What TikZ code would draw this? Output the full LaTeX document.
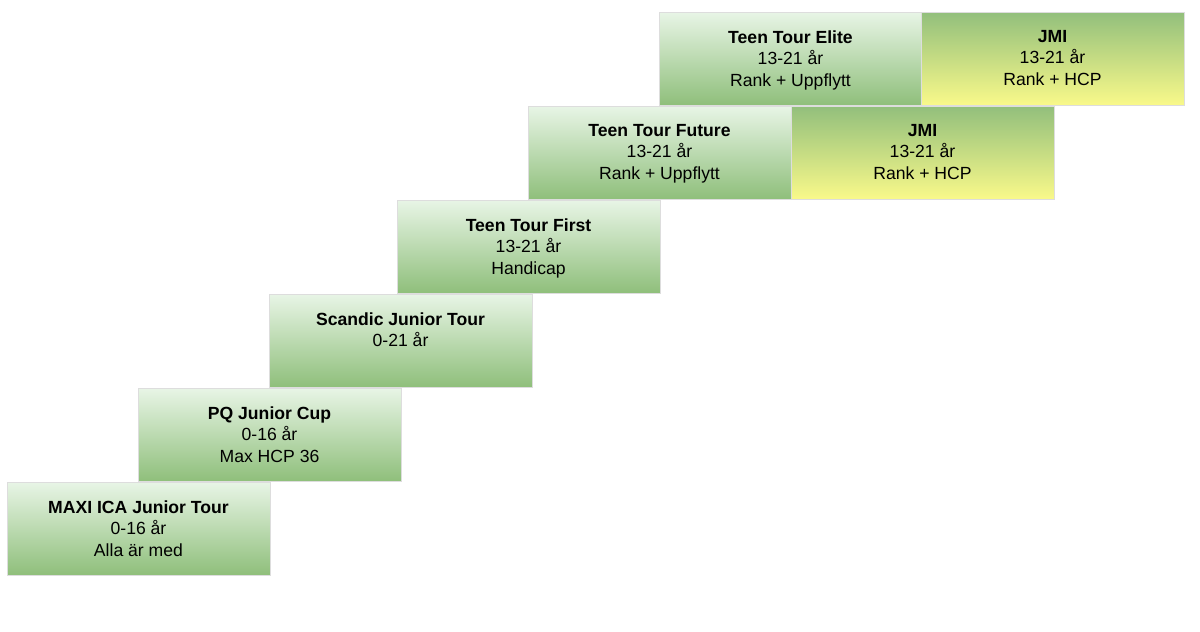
\documentclass[tikz,border=0pt]{standalone}
\usepackage{fontspec}
\setmainfont{Liberation Sans}
\definecolor{gtop}{HTML}{E8F5E6}
\definecolor{gbot}{HTML}{8FBF7B}
\definecolor{jtop}{HTML}{92BF7C}
\definecolor{jbot}{HTML}{F9F98A}
\definecolor{edge}{HTML}{DDDDDD}
\tikzset{
  box/.style={rectangle, anchor=north west, inner sep=0pt, outer sep=0pt,
    minimum width=263*0.75pt, minimum height=93*0.75pt,
    draw=edge, line width=0.4pt},
  gbox/.style={box, top color=gtop, bottom color=gbot},
  jbox/.style={box, top color=jtop, bottom color=jbot},
  txt/.style={anchor=north, inner sep=0pt, align=center,
    font=\fontsize{13.2}{16.2}\selectfont}
}
\begin{document}
\begin{tikzpicture}[x=0.75pt,y=-0.75pt]
\useasboundingbox (0,0) rectangle (1200,632);
\fill[white] (0,0) rectangle (1200,632);
% boxes
\node[gbox] (b1) at (7,482) {};
\node[gbox] (b2) at (138,388) {};
\node[gbox] (b3) at (269,294) {};
\node[gbox] (b4) at (397,200) {};
\node[gbox] (b5) at (528,106) {};
\node[jbox] (j5) at (791,106) {};
\node[gbox] (b6) at (659,12) {};
\node[jbox] (j6) at (921,12) {};
% texts
\node[txt] (t1) at ([yshift=-18*0.75pt]b1.north) {\textbf{MAXI ICA Junior Tour}\\0-16 år\\Alla är med};
\node[txt] (t2) at ([yshift=-18*0.75pt]b2.north) {\textbf{PQ Junior Cup}\\0-16 år\\Max HCP 36};
\node[txt] (t3) at ([yshift=-18*0.75pt]b3.north) {\textbf{Scandic Junior Tour}\\0-21 år};
\node[txt] (t4) at ([yshift=-18*0.75pt]b4.north) {\textbf{Teen Tour First}\\13-21 år\\Handicap};
\node[txt] (t5) at ([yshift=-18*0.75pt]b5.north) {\textbf{Teen Tour Future}\\13-21 år\\Rank + Uppflytt};
\node[txt] (u5) at ([yshift=-18*0.75pt]j5.north) {\textbf{JMI}\\13-21 år\\Rank + HCP};
\node[txt] (t6) at ([yshift=-18*0.75pt]b6.north) {\textbf{Teen Tour Elite}\\13-21 år\\Rank + Uppflytt};
\node[txt] (u6) at ([yshift=-18*0.75pt]j6.north) {\textbf{JMI}\\13-21 år\\Rank + HCP};
\end{tikzpicture}
\end{document}
